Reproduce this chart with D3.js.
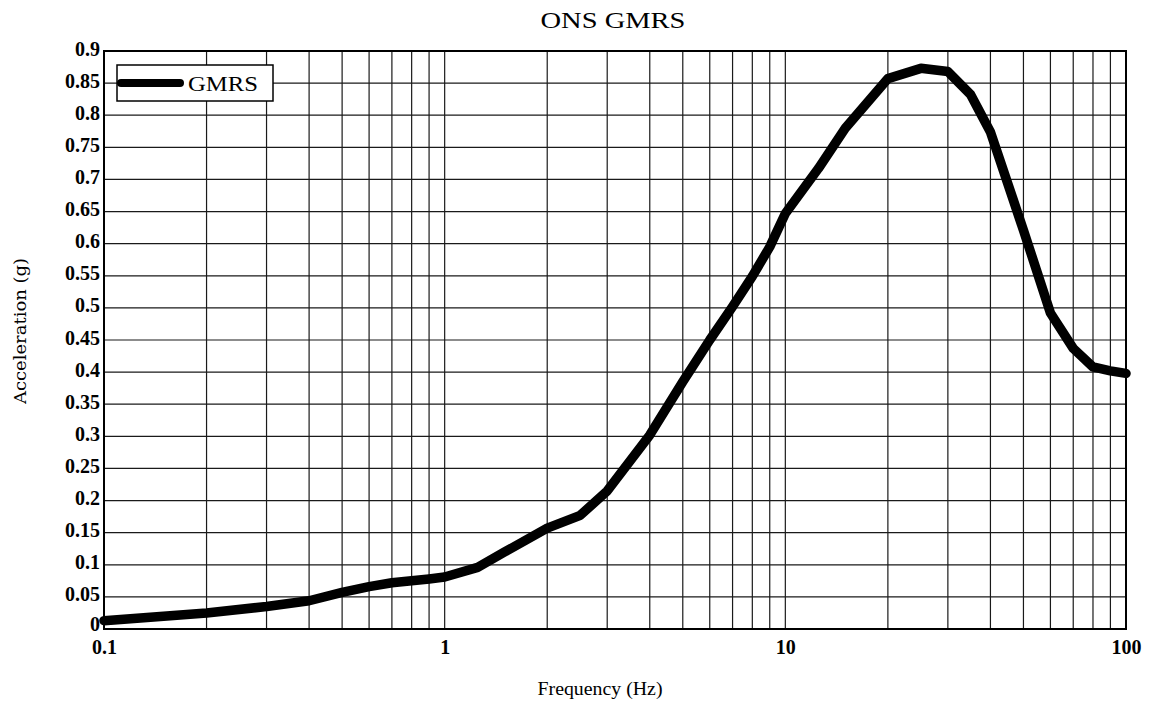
<!DOCTYPE html>
<html lang="en">
  <head>
    <meta charset="utf-8">
    <title>ONS GMRS</title>
    <script type="text/javascript" src="https://d3js.org/d3.v7.min.js"></script>
    <style type="text/css">
      body {
        margin: 0;
        background: #ffffff;
      }

      .title {
        font-family: "Liberation Serif", serif;
        font-size: 23px;
        text-anchor: middle;
      }

      .xlabel {
        font-family: "Liberation Serif", serif;
        font-size: 19px;
        text-anchor: middle;
      }

      .ylabel {
        font-family: "DejaVu Serif", serif;
        font-size: 16px;
        text-anchor: middle;
      }

      .tick text {
        font-family: "Liberation Serif", serif;
        font-size: 20px;
        font-weight: bold;
        fill: #000;
      }

      .grid line {
        stroke: #1a1a1a;
        stroke-width: 1.2;
      }

      .legend text {
        font-family: "Liberation Serif", serif;
        font-size: 22px;
      }
    </style>
  </head>

  <body>
    <script type="text/javascript">

    // data
    const freq = [0.1, 0.2, 0.3, 0.4, 0.5, 0.6, 0.7, 0.8, 0.9, 1, 1.25, 1.5, 2, 2.5, 3, 4, 5, 6, 7, 8, 9, 10,
                  12.5, 15, 20, 25, 30, 35, 40, 50, 60, 70, 80, 90, 100];
    const accel = [0.013, 0.025, 0.035, 0.044, 0.057, 0.066, 0.072, 0.075, 0.078, 0.081, 0.096, 0.12, 0.157, 0.177,
                   0.215, 0.302, 0.385, 0.45, 0.502, 0.549, 0.595, 0.647,
                   0.717, 0.78, 0.857, 0.873, 0.868, 0.832, 0.774, 0.621, 0.492, 0.437, 0.408, 0.402, 0.398];

    const xTicks = [0.1, 1, 10, 100];
    const yTicks = d3.range(0, 0.9001, 0.05);
    const seriesName = 'GMRS';

    // layout
    const width = 1150;
    const height = 713;
    const margin = {top: 51, right: 24, bottom: 84, left: 104};

    const svg = d3.select('body')
      .append('svg')
      .attr('width', width)
      .attr('height', height);

    const xScale = d3.scaleLog()
      .domain([0.1, 100])
      .range([margin.left, width - margin.right]);

    const yScale = d3.scaleLinear()
      .domain([0, 0.9])
      .range([height - margin.bottom, margin.top]);

    // minor log grid lines 0.1..100
    const xGrid = [];
    [0.1, 1, 10].forEach(d => {
      for (let k = 1; k < 10; k++) xGrid.push(+(d * k).toPrecision(3));
    });
    xGrid.push(100);

    const grid = svg.append('g').attr('class', 'grid');

    grid.selectAll('.vline')
      .data(xGrid)
      .enter()
      .append('line')
      .attr('x1', d => xScale(d))
      .attr('x2', d => xScale(d))
      .attr('y1', yScale(0))
      .attr('y2', yScale(0.9));

    grid.selectAll('.hline')
      .data(yTicks)
      .enter()
      .append('line')
      .attr('x1', xScale(0.1))
      .attr('x2', xScale(100))
      .attr('y1', d => yScale(d))
      .attr('y2', d => yScale(d));

    // frame
    svg.append('rect')
      .attr('x', xScale(0.1))
      .attr('y', yScale(0.9))
      .attr('width', xScale(100) - xScale(0.1))
      .attr('height', yScale(0) - yScale(0.9))
      .attr('fill', 'none')
      .attr('stroke', '#000')
      .attr('stroke-width', 2);

    // axes
    const xAxis = svg.append('g')
      .attr('transform', 'translate(0,' + yScale(0) + ')')
      .call(d3.axisBottom(xScale).tickValues(xTicks).tickSize(0).tickPadding(8)
        .tickFormat(d => d3.format('')(d)));
    xAxis.select('.domain').remove();
    xAxis.selectAll('.tick text').attr('dy', '0.85em');

    const yAxis = svg.append('g')
      .attr('transform', 'translate(' + xScale(0.1) + ',0)')
      .call(d3.axisLeft(yScale).tickValues(yTicks).tickSize(0).tickPadding(4)
        .tickFormat(d => d3.format('')(+d.toFixed(2))));
    yAxis.select('.domain').remove();
    yAxis.selectAll('.tick text').attr('dy', d => d === 0 ? '0.05em' : '0.2em');

    // curve
    const line = d3.line()
      .x((d, i) => xScale(freq[i]))
      .y(d => yScale(d));

    svg.append('path')
      .datum(accel)
      .attr('d', line)
      .attr('fill', 'none')
      .attr('stroke', '#000')
      .attr('stroke-width', 9.5)
      .attr('stroke-linejoin', 'round')
      .attr('stroke-linecap', 'round');

    // legend
    const legend = svg.append('g').attr('class', 'legend');
    legend.append('rect')
      .attr('x', 117)
      .attr('y', 65)
      .attr('width', 156)
      .attr('height', 36)
      .attr('fill', '#fff')
      .attr('stroke', '#000')
      .attr('stroke-width', 1.5);
    legend.append('line')
      .attr('x1', 121)
      .attr('x2', 180)
      .attr('y1', 83)
      .attr('y2', 83)
      .attr('stroke', '#000')
      .attr('stroke-width', 8)
      .attr('stroke-linecap', 'round');
    legend.append('text')
      .attr('x', 188)
      .attr('y', 91)
      .attr('textLength', 70)
      .attr('lengthAdjust', 'spacingAndGlyphs')
      .text(seriesName);

    // titles
    svg.append('text')
      .attr('class', 'title')
      .attr('x', 613)
      .attr('y', 28)
      .attr('textLength', 145)
      .attr('lengthAdjust', 'spacingAndGlyphs')
      .text('ONS GMRS');

    svg.append('text')
      .attr('class', 'xlabel')
      .attr('x', 600)
      .attr('y', 695)
      .attr('textLength', 125)
      .attr('lengthAdjust', 'spacingAndGlyphs')
      .text('Frequency (Hz)');

    svg.append('text')
      .attr('class', 'ylabel')
      .attr('transform', 'translate(26,331) rotate(-90)')
      .attr('textLength', 146)
      .attr('lengthAdjust', 'spacingAndGlyphs')
      .text('Acceleration (g)');

    </script>
  </body>
</html>
